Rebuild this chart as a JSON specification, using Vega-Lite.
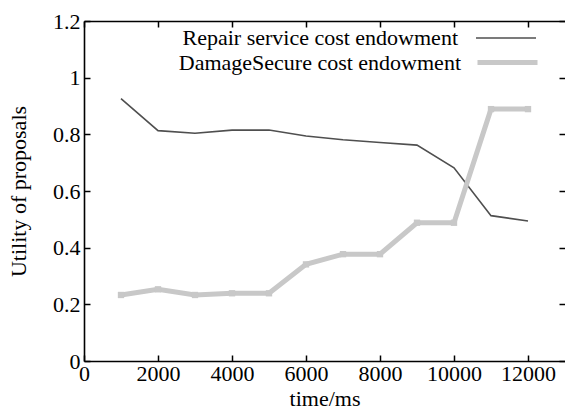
{
  "$schema": "https://vega.github.io/schema/vega-lite/v6.json",
  "width": 481,
  "height": 340,
  "autosize": {"type": "none"},
  "padding": {"left": 84, "top": 21, "right": 0, "bottom": 49},
  "background": "white",
  "config": {
    "font": "Liberation Serif",
    "view": {"stroke": null},
    "axis": {"grid": false, "domainColor": "black", "domainWidth": 1.6, "tickColor": "black", "tickWidth": 1.5, "labelFont": "Liberation Serif", "titleFont": "Liberation Serif", "labelFontSize": 22, "titleFontSize": 22, "labelColor": "black", "titleColor": "black", "titleFontWeight": "normal", "labelFlush": false},
    "legend": {"labelFont": "Liberation Serif", "labelFontSize": 22, "labelColor": "black", "title": null, "orient": "none", "symbolType": "stroke", "symbolSize": 3600, "labelAlign": "right", "labelOffset": -79, "labelLimit": 0, "padding": 0}
  },
  "data": {"values": [
    {"time": 1000, "utility": 0.926, "series": "Repair service cost endowment"},
    {"time": 2000, "utility": 0.813, "series": "Repair service cost endowment"},
    {"time": 3000, "utility": 0.804, "series": "Repair service cost endowment"},
    {"time": 4000, "utility": 0.815, "series": "Repair service cost endowment"},
    {"time": 5000, "utility": 0.815, "series": "Repair service cost endowment"},
    {"time": 6000, "utility": 0.794, "series": "Repair service cost endowment"},
    {"time": 7000, "utility": 0.781, "series": "Repair service cost endowment"},
    {"time": 8000, "utility": 0.771, "series": "Repair service cost endowment"},
    {"time": 9000, "utility": 0.762, "series": "Repair service cost endowment"},
    {"time": 10000, "utility": 0.682, "series": "Repair service cost endowment"},
    {"time": 11000, "utility": 0.513, "series": "Repair service cost endowment"},
    {"time": 12000, "utility": 0.494, "series": "Repair service cost endowment"},
    {"time": 1000, "utility": 0.233, "series": "DamageSecure cost endowment"},
    {"time": 2000, "utility": 0.253, "series": "DamageSecure cost endowment"},
    {"time": 3000, "utility": 0.233, "series": "DamageSecure cost endowment"},
    {"time": 4000, "utility": 0.239, "series": "DamageSecure cost endowment"},
    {"time": 5000, "utility": 0.239, "series": "DamageSecure cost endowment"},
    {"time": 6000, "utility": 0.341, "series": "DamageSecure cost endowment"},
    {"time": 7000, "utility": 0.377, "series": "DamageSecure cost endowment"},
    {"time": 8000, "utility": 0.377, "series": "DamageSecure cost endowment"},
    {"time": 9000, "utility": 0.488, "series": "DamageSecure cost endowment"},
    {"time": 10000, "utility": 0.488, "series": "DamageSecure cost endowment"},
    {"time": 11000, "utility": 0.889, "series": "DamageSecure cost endowment"},
    {"time": 12000, "utility": 0.889, "series": "DamageSecure cost endowment"}
  ]},
  "resolve": {"axis": {"x": "independent", "y": "independent"}, "scale": {"color": "independent"}},
  "layer": [
    {
      "transform": [{"filter": "datum.series == 'Repair service cost endowment'"}],
      "mark": {"type": "line", "clip": true, "strokeWidth": 1.6},
      "encoding": {
        "x": {"field": "time", "type": "quantitative", "scale": {"domain": [0, 13000], "nice": false, "zero": false},
              "axis": {"orient": "bottom", "values": [0, 2000, 4000, 6000, 8000, 10000, 12000], "format": "d", "tickSize": -6, "labelPadding": 8, "title": "time/ms", "titlePadding": 4}},
        "y": {"field": "utility", "type": "quantitative", "scale": {"domain": [0, 1.2], "nice": false},
              "axis": {"orient": "left", "values": [0, 0.2, 0.4, 0.6, 0.8, 1, 1.2], "format": ".2~f", "tickSize": -6, "labelPadding": 10, "title": "Utility of proposals", "titlePadding": 22}},
        "color": {"field": "series", "type": "nominal",
                  "scale": {"domain": ["Repair service cost endowment"], "range": ["#4f4f4f"]},
                  "legend": {"legendX": 391, "legendY": -14, "symbolStrokeWidth": 1.6}}
      }
    },
    {
      "transform": [{"filter": "datum.series == 'DamageSecure cost endowment'"}],
      "mark": {"type": "line", "clip": true, "strokeWidth": 5},
      "encoding": {
        "x": {"field": "time", "type": "quantitative", "scale": {"domain": [0, 13000], "nice": false, "zero": false}, "axis": null},
        "y": {"field": "utility", "type": "quantitative", "scale": {"domain": [0, 1.2], "nice": false}, "axis": null},
        "color": {"field": "series", "type": "nominal",
                  "scale": {"domain": ["DamageSecure cost endowment"], "range": ["#c8c8c8"]},
                  "legend": {"legendX": 391, "legendY": 9, "symbolStrokeWidth": 5}}
      }
    },
    {
      "transform": [{"filter": "datum.series == 'DamageSecure cost endowment'"}],
      "mark": {"type": "point", "shape": "square", "filled": true, "size": 40, "color": "#c8c8c8", "opacity": 1},
      "encoding": {
        "x": {"field": "time", "type": "quantitative", "scale": {"domain": [0, 13000], "nice": false, "zero": false},
              "axis": {"orient": "top", "values": [0, 2000, 4000, 6000, 8000, 10000, 12000], "labels": false, "tickSize": -6, "title": null}},
        "y": {"field": "utility", "type": "quantitative", "scale": {"domain": [0, 1.2], "nice": false},
              "axis": {"orient": "right", "values": [0, 0.2, 0.4, 0.6, 0.8, 1, 1.2], "labels": false, "domain": false, "tickSize": -6, "title": null}}
      }
    }
  ]
}
